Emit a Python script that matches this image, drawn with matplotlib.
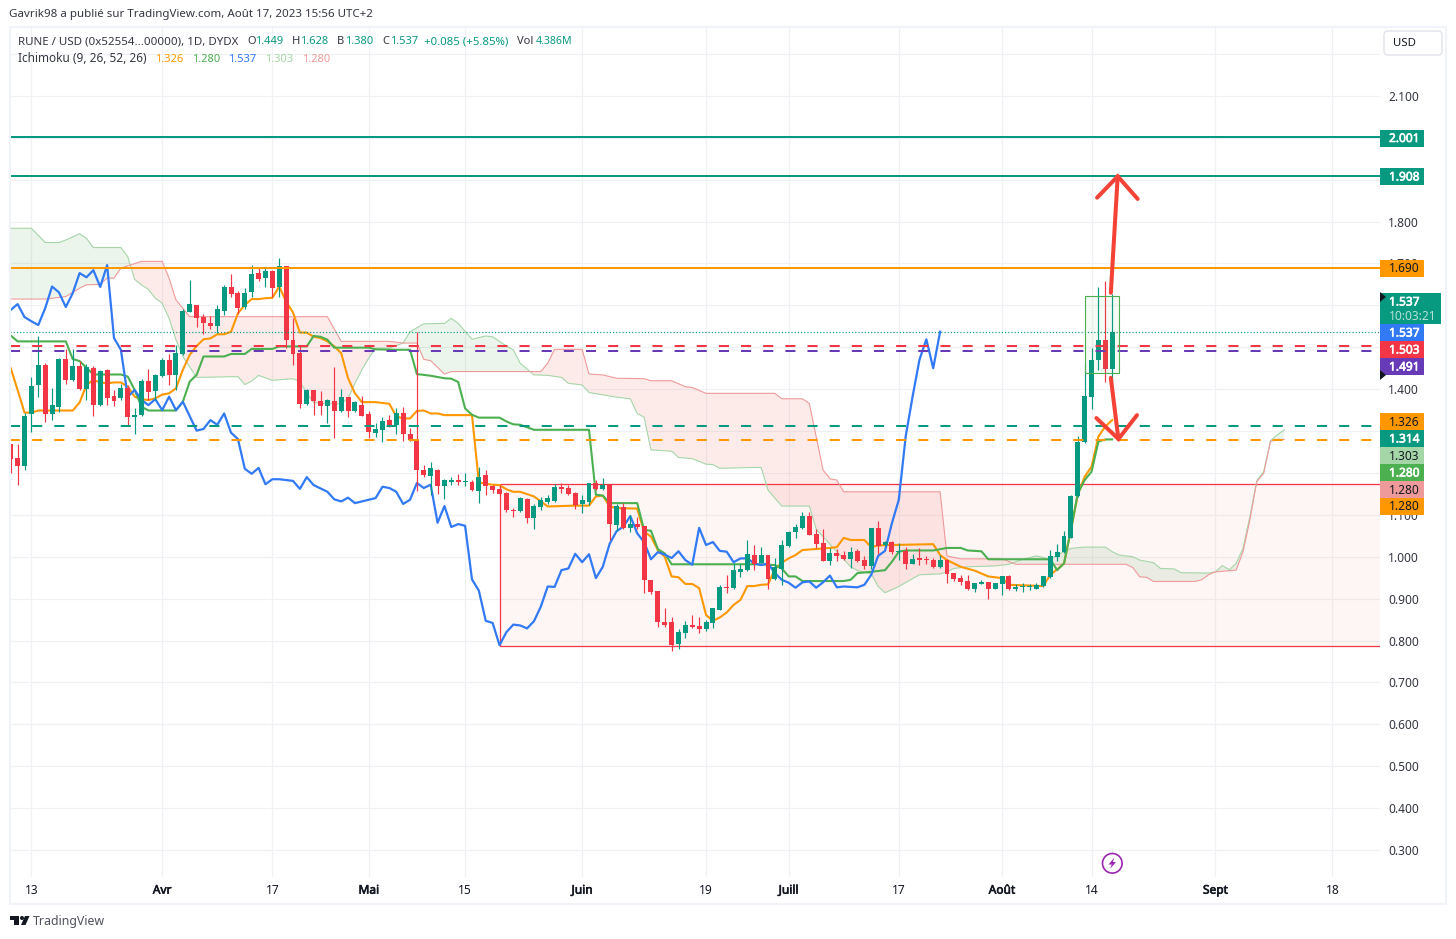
import matplotlib
matplotlib.use('Agg')
import matplotlib.pyplot as plt
import matplotlib.patheffects as pe
import numpy as np
from matplotlib.patches import Rectangle, Polygon, Circle, FancyBboxPatch
from matplotlib.transforms import Affine2D

plt.rcParams['font.family'] = ['Noto Sans', 'DejaVu Sans']

# daily candles, day 0 = 13 March 2023
candle_days = list(range(-3, 158))
opens = [1.269,1.236,1.217,1.341,1.41,1.458,1.341,1.358,1.472,1.422,1.455,1.401,1.451,1.362,1.446,1.384,1.379,1.403,1.334,1.338,1.42,1.396,1.432,1.47,1.434,1.484,1.584,1.601,1.572,1.558,1.551,1.587,1.644,1.63,1.596,1.632,1.677,1.666,1.682,1.644,1.694,1.518,1.486,1.365,1.398,1.372,1.36,1.372,1.348,1.381,1.348,1.362,1.341,1.296,1.303,1.327,1.315,1.342,1.293,1.281,1.207,1.193,1.207,1.169,1.179,1.183,1.179,1.179,1.157,1.195,1.169,1.162,1.152,1.112,1.109,1.138,1.093,1.119,1.131,1.133,1.167,1.164,1.152,1.126,1.131,1.176,1.162,1.171,1.076,1.119,1.069,1.078,1.074,0.945,0.918,0.844,0.844,0.792,0.818,0.837,0.835,0.828,0.842,0.873,0.928,0.925,0.964,0.968,1.004,0.985,1.004,0.947,0.971,1.026,1.059,1.069,1.097,1.054,1.033,0.99,1.009,1.004,0.995,1.014,0.992,0.978,1.069,1.028,1.035,1.011,1.014,0.983,0.997,0.995,0.992,0.976,0.992,0.961,0.949,0.942,0.923,0.935,0.94,0.923,0.935,0.954,0.923,0.927,0.927,0.923,0.93,0.952,0.999,1.011,1.045,1.144,1.274,1.382,1.47,1.518,1.449]
highs = [1.269,1.269,1.344,1.428,1.527,1.462,1.402,1.475,1.495,1.495,1.467,1.46,1.455,1.446,1.448,1.398,1.412,1.41,1.355,1.424,1.448,1.436,1.475,1.484,1.506,1.592,1.661,1.601,1.58,1.575,1.601,1.649,1.675,1.634,1.642,1.697,1.692,1.692,1.685,1.713,1.694,1.57,1.503,1.401,1.398,1.396,1.377,1.453,1.401,1.381,1.372,1.384,1.348,1.319,1.334,1.338,1.355,1.357,1.307,1.537,1.219,1.226,1.21,1.186,1.19,1.198,1.2,1.183,1.214,1.207,1.171,1.171,1.155,1.116,1.143,1.14,1.126,1.143,1.148,1.174,1.176,1.171,1.155,1.148,1.176,1.183,1.188,1.174,1.126,1.128,1.1,1.095,1.074,0.945,0.918,0.878,0.856,0.828,0.847,0.861,0.856,0.849,0.878,0.933,0.957,0.985,0.983,1.04,1.028,1.023,1.004,0.997,1.04,1.062,1.078,1.107,1.107,1.066,1.066,1.021,1.019,1.014,1.023,1.019,1.002,1.069,1.085,1.038,1.038,1.033,1.023,1.007,1.021,1.002,0.997,1.004,0.995,0.961,0.957,0.957,0.937,0.945,0.94,0.937,0.954,0.957,0.935,0.937,0.935,0.937,0.954,1.016,1.031,1.062,1.148,1.288,1.46,1.498,1.645,1.658,1.628]
lows = [1.199,1.171,1.207,1.298,1.382,1.322,1.327,1.346,1.412,1.42,1.398,1.374,1.336,1.36,1.362,1.36,1.374,1.315,1.293,1.336,1.374,1.374,1.429,1.41,1.398,1.482,1.584,1.549,1.532,1.544,1.534,1.577,1.62,1.58,1.592,1.62,1.658,1.644,1.62,1.62,1.498,1.458,1.355,1.362,1.338,1.338,1.319,1.284,1.346,1.334,1.346,1.336,1.284,1.286,1.274,1.31,1.293,1.277,1.277,1.157,1.19,1.148,1.15,1.138,1.171,1.171,1.169,1.157,1.128,1.148,1.152,1.148,1.107,1.095,1.107,1.081,1.066,1.112,1.126,1.131,1.152,1.148,1.114,1.105,1.124,1.159,1.159,1.04,1.062,1.066,1.059,1.066,0.914,0.911,0.832,0.832,0.775,0.78,0.806,0.83,0.818,0.823,0.83,0.872,0.914,0.923,0.952,0.966,0.968,0.985,0.923,0.945,0.933,1.023,1.045,1.066,1.052,1.021,0.99,0.98,0.99,0.992,0.973,0.988,0.971,0.971,1.007,1.026,1.007,0.992,0.971,0.983,0.98,0.983,0.973,0.973,0.937,0.942,0.933,0.921,0.916,0.935,0.899,0.923,0.909,0.921,0.918,0.916,0.921,0.923,0.928,0.949,0.99,1.009,1.045,1.142,1.271,1.352,1.446,1.416,1.38]
closes = [1.234,1.217,1.336,1.408,1.458,1.341,1.362,1.472,1.422,1.455,1.401,1.453,1.362,1.444,1.379,1.372,1.403,1.334,1.338,1.42,1.393,1.434,1.47,1.434,1.486,1.587,1.603,1.57,1.558,1.551,1.592,1.644,1.627,1.594,1.63,1.675,1.663,1.682,1.642,1.694,1.518,1.484,1.365,1.398,1.372,1.36,1.374,1.348,1.381,1.348,1.37,1.336,1.298,1.305,1.324,1.312,1.343,1.293,1.279,1.207,1.195,1.212,1.169,1.183,1.183,1.179,1.181,1.159,1.19,1.169,1.159,1.15,1.112,1.109,1.14,1.093,1.121,1.136,1.14,1.167,1.162,1.15,1.124,1.136,1.176,1.162,1.171,1.078,1.121,1.069,1.078,1.071,0.945,0.916,0.844,0.837,0.789,0.82,0.837,0.832,0.828,0.844,0.878,0.928,0.925,0.968,0.971,1.007,0.983,1.004,0.947,0.976,1.028,1.059,1.071,1.097,1.052,1.031,0.99,1.009,1.002,0.995,1.011,0.99,0.978,1.069,1.026,1.035,1.011,1.011,0.983,0.995,0.992,0.992,0.976,0.992,0.959,0.947,0.94,0.923,0.937,0.94,0.923,0.937,0.954,0.923,0.928,0.929,0.929,0.933,0.954,1.002,1.011,1.05,1.145,1.274,1.384,1.47,1.518,1.448,1.537]

# ichimoku lines
chikou_days = list(range(-3, 23)) + list(range(24, 37)) + [38,39,40,41,43,44,45,46,47] + list(range(50, 119)) + list(range(120, 133))
chikou = [1.589,1.603,1.572,1.562,1.553,1.593,1.645,1.631,1.596,1.629,1.677,1.667,1.684,1.644,1.696,1.522,1.494,1.382,1.398,1.374,1.362,1.376,1.35,1.382,1.35,1.37,1.301,1.305,1.326,1.315,1.342,1.296,1.281,1.21,1.198,1.212,1.173,1.185,1.185,1.181,1.162,1.19,1.171,1.155,1.137,1.132,1.141,1.128,1.14,1.167,1.164,1.155,1.126,1.136,1.176,1.164,1.172,1.081,1.121,1.071,1.078,1.074,0.946,0.919,0.847,0.842,0.789,0.82,0.838,0.836,0.829,0.846,0.881,0.929,0.928,0.968,0.972,1.007,0.987,1.006,0.949,0.976,1.031,1.061,1.072,1.097,1.056,1.035,0.994,1.011,1.005,0.997,1.013,0.992,0.981,1.069,1.028,1.035,1.014,1.012,0.987,0.996,0.996,0.984,0.98,0.984,0.961,0.945,0.938,0.926,0.939,0.941,0.926,0.939,0.955,0.927,0.929,0.927,0.933,0.957,1.002,1.014,1.08,1.136,1.287,1.382,1.47,1.519,1.45,1.537]
tenkan_days = list(range(-3, 49)) + [50,52,53,54,55,56,57,58,59,60,64,65,66,67,68,69,70,71,73,74,75,79,81,82,83,84,85] + list(range(88, 113)) + [116,117,118,119,121,122,123,125,131,132,133,135,137,139,141,142] + list(range(147, 158))
tenkan = [1.45,1.398,1.344,1.344,1.349,1.349,1.349,1.349,1.349,1.349,1.368,1.41,1.422,1.416,1.414,1.416,1.416,1.406,1.382,1.376,1.374,1.378,1.387,1.39,1.402,1.446,1.482,1.503,1.519,1.521,1.531,1.531,1.537,1.581,1.601,1.615,1.615,1.617,1.618,1.645,1.609,1.583,1.535,1.535,1.525,1.522,1.514,1.502,1.486,1.426,1.39,1.369,1.369,1.365,1.335,1.33,1.33,1.348,1.349,1.342,1.342,1.338,1.338,1.178,1.174,1.172,1.171,1.161,1.155,1.155,1.144,1.132,1.12,1.122,1.122,1.144,1.146,1.12,1.116,1.115,1.06,1.048,1.016,1.0,0.953,0.951,0.935,0.935,0.925,0.861,0.847,0.855,0.867,0.885,0.897,0.93,0.93,0.933,0.934,0.97,0.986,0.996,1.004,1.016,1.021,1.023,1.045,1.04,1.04,1.023,1.027,1.028,1.03,1.004,0.992,0.976,0.967,0.953,0.949,0.933,0.93,0.957,0.97,0.984,1.064,1.148,1.191,1.215,1.287,1.311,1.326]
kijun_days = [-3,-2,5,6,7,8,9,13,14,15,16,17,21,22,23,24,25,28,29,31,32,35,36,40,41,42,43,44,49,50,53,54,55,56,58,60,61,62,63,64,65,68,69,70,71,73,81,82,83,84,88,89,90,91,92,93,105,106,108,109,110,111,112,118,119,120,122,124,125,126,127,131,133,135,136,138,139,148,149,150,151,152,153,154,155,156,157]
kijun = [1.528,1.514,1.514,1.472,1.467,1.451,1.435,1.435,1.43,1.398,1.358,1.349,1.349,1.37,1.418,1.434,1.478,1.478,1.484,1.484,1.496,1.496,1.502,1.502,1.527,1.525,1.518,1.499,1.499,1.495,1.494,1.494,1.494,1.436,1.432,1.426,1.425,1.417,1.354,1.339,1.332,1.332,1.323,1.316,1.315,1.303,1.303,1.148,1.146,1.128,1.128,1.064,1.062,1.018,1.008,0.982,0.982,0.982,0.98,0.972,0.953,0.953,0.942,0.942,0.945,0.961,0.964,0.968,0.988,1.012,1.015,1.015,1.021,1.021,1.015,1.013,0.994,0.994,0.968,0.984,1.064,1.151,1.183,1.203,1.275,1.28,1.28]
senkou_a_days = [-3,0,2,4,5,7,8,9,13,14,15,16,17,18,19,20,21,22,24,30,31,32,33,35,38,39,40,41,43,45,46,47,48,49,50,52,54,55,57,60,61,62,64,66,67,69,70,71,73,75,77,78,80,81,85,87,88,89,90,93,94,96,98,99,100,105,106,107,109,113,114,115,119,120,122,123,124,126,129,132,133,134,136,140,142,144,146,148,149,150,151,153,156,157,158,160,161,163,164,166,167,171,172,173,174,175,176,177,178,179,180,181,182]
senkou_a = [1.784,1.784,1.75,1.75,1.756,1.771,1.76,1.738,1.738,1.716,1.662,1.649,1.638,1.617,1.605,1.569,1.518,1.478,1.428,1.43,1.411,1.419,1.433,1.421,1.425,1.418,1.39,1.368,1.365,1.365,1.378,1.414,1.446,1.474,1.498,1.498,1.51,1.537,1.556,1.557,1.569,1.557,1.519,1.527,1.525,1.503,1.494,1.462,1.434,1.433,1.428,1.414,1.41,1.392,1.381,1.377,1.342,1.333,1.255,1.252,1.237,1.234,1.221,1.22,1.211,1.213,1.213,1.159,1.121,1.121,1.066,1.048,0.976,0.967,0.959,0.929,0.914,0.929,0.957,0.959,0.964,0.972,0.976,0.978,0.982,0.994,1.002,0.994,1.004,1.012,1.02,1.023,1.023,1.012,1.004,1.0,0.992,0.986,0.972,0.971,0.962,0.961,0.964,0.979,0.969,0.984,1.02,1.096,1.181,1.203,1.277,1.291,1.303]
senkou_b_days = [-3,2,5,7,8,10,11,12,13,16,19,20,21,23,43,45,52,54,56,57,58,60,61,74,75,76,80,81,83,85,89,90,93,95,96,98,105,108,109,112,113,115,116,117,118,132,133,135,141,143,149,159,160,161,162,163,169,170,171,172,175,176,177,178,179,180,181,182]
senkou_b = [1.615,1.615,1.621,1.641,1.649,1.65,1.665,1.665,1.689,1.705,1.705,1.665,1.613,1.573,1.573,1.514,1.514,1.51,1.51,1.471,1.468,1.436,1.442,1.442,1.462,1.495,1.495,1.436,1.434,1.426,1.425,1.42,1.42,1.406,1.404,1.39,1.39,1.39,1.377,1.377,1.366,1.207,1.186,1.183,1.155,1.155,1.002,0.995,0.995,0.982,0.982,0.982,0.974,0.952,0.951,0.941,0.941,0.945,0.957,0.964,0.968,1.012,1.088,1.179,1.199,1.275,1.28,1.28]

# levels and drawings
solid_levels = [2.001, 1.908, 1.690]
solid_colors = ['#089981', '#089981', '#FF9800']
dashed_levels = [1.503, 1.491, 1.312, 1.279]
dashed_colors = ['#F23645', '#673AB7', '#089981', '#FF9800']
last_price = 1.537
range_box = (68, 0.786, 1.173)
green_box = (153, 158, 1.438, 1.622)
arrow_up = ([156.8, 157.8], [1.630, 1.908])
head_up = ([154.8, 157.8, 160.7], [1.857, 1.908, 1.854])
arrow_down = ([156.8, 157.9], [1.427, 1.281])
head_down = ([154.7, 157.9, 160.6], [1.331, 1.281, 1.338])

tick_days = [0, 19, 35, 49, 63, 80, 98, 110, 126, 141, 154, 172, 189]
tick_names = ['13', 'Avr', '17', 'Mai', '15', 'Juin', '19', 'Juill', '17', 'Août', '14', 'Sept', '18']
months = ['Avr', 'Mai', 'Juin', 'Juill', 'Août', 'Sept']
price_ticks = [round(0.3 + 0.1 * i, 1) for i in range(20)]
covered_ticks = [2.2, 2.0, 1.9, 1.6, 1.5, 1.3, 1.2]  # sit behind the price tags

# (text, centre y in px, background, text colour)
tags = [('2.001', 138, '#089981', 'white'), ('1.908', 176.5, '#089981', 'white'),
        ('1.690', 268, '#FF9800', '#131722'), ('1.537', 332.5, '#3179F5', 'white'),
        ('1.503', 349.5, '#F23645', 'white'), ('1.491', 366.5, '#673AB7', 'white'),
        ('1.326', 421.5, '#FF9800', '#131722'), ('1.314', 438.5, '#089981', 'white'),
        ('1.303', 455.5, '#A5D6A7', '#131722'), ('1.280', 472.5, '#4CAF50', 'white'),
        ('1.280', 489.5, '#EF9A9A', '#131722'), ('1.280', 506.5, '#FF9800', '#131722')]

UP = '#089981'
DOWN = '#F23645'
GRID = '#F0F1F5'
W, H = 1456, 939


def heavy(col, w=0.45):
    # Noto Sans here has no bold cut, thicken with a thin stroke
    return [pe.withStroke(linewidth=w, foreground=col)]


fig = plt.figure(figsize=(W / 100, H / 100), dpi=100, facecolor='white')
ax = fig.add_axes([10 / W, 1 - 877 / H, 1370 / W, 849 / H])
px = Affine2D().scale(1, -1).translate(0, H)  # reference pixels to display
ax.set_xlim(-3.108, 195.9)
ax.set_ylim(0.2356, 2.262)
for s in ax.spines.values():
    s.set_visible(False)
ax.grid(True, color=GRID, lw=0.9, zorder=0)
ax.set_axisbelow(True)
ax.yaxis.tick_right()
ax.set_yticks(price_ticks)
ax.set_yticklabels(['' if p in covered_ticks else '%.3f' % p for p in price_ticks], fontsize=8.6, color='#333742')
ax.tick_params(axis='y', length=0, pad=6)
ax.set_xticks(tick_days)
ax.set_xticklabels(tick_names, fontsize=8.6, color='#131722')
ax.tick_params(axis='x', length=0, pad=4.8)
for lab in ax.get_xticklabels():
    if lab.get_text() in months:
        lab.set_path_effects(heavy('#131722'))

# price range box behind everything
ax.add_patch(Rectangle((range_box[0], range_box[1]), 200, range_box[2] - range_box[1],
                       fc=(0.96, 0.3, 0.25, 0.05), ec=DOWN, lw=0.9, zorder=1))

# cloud
grid_days = sorted(set(senkou_a_days) | set(senkou_b_days))
a_fill = np.interp(grid_days, senkou_a_days, senkou_a)
b_fill = np.interp(grid_days, senkou_b_days, senkou_b)
ax.fill_between(grid_days, a_fill, b_fill, where=a_fill >= b_fill, interpolate=True,
                color='#43A047', alpha=0.1, lw=0, zorder=2)
ax.fill_between(grid_days, a_fill, b_fill, where=a_fill <= b_fill, interpolate=True,
                color='#F44336', alpha=0.1, lw=0, zorder=2)
ax.plot(senkou_a_days, senkou_a, color='#A5D6A7', lw=0.8, zorder=3)
ax.plot(senkou_b_days, senkou_b, color='#EF9A9A', lw=0.8, zorder=3)

ax.plot(tenkan_days, tenkan, color='#FF9800', lw=1.5, zorder=4, solid_joinstyle='round')
ax.plot(kijun_days, kijun, color='#4CAF50', lw=1.5, zorder=4, solid_joinstyle='round')
ax.plot(chikou_days, chikou, color='#3179F5', lw=1.6, zorder=4, solid_joinstyle='round')

# candles
colors = [UP if c >= o else DOWN for o, c in zip(opens, closes)]
ax.vlines(candle_days, lows, highs, colors=colors, lw=0.85, zorder=5)
bottoms = [min(o, c) for o, c in zip(opens, closes)]
heights = [max(abs(c - o), 0.0024) for o, c in zip(opens, closes)]
ax.bar(candle_days, heights, bottom=bottoms, width=0.72, color=colors, lw=0, zorder=6)

# levels
for lvl, col in zip(solid_levels, solid_colors):
    ax.axhline(lvl, color=col, lw=1.45, zorder=7)
for lvl, col in zip(dashed_levels, dashed_colors):
    ax.axhline(lvl, color=col, lw=1.45, ls=(0, (5, 6)), zorder=7)
ax.axhline(last_price, color=UP, lw=0.85, ls=(0, (1, 1.7)), zorder=7)

ax.add_patch(Rectangle((green_box[0], green_box[2]), green_box[1] - green_box[0],
                       green_box[3] - green_box[2], fc=(0.298, 0.686, 0.314, 0.06),
                       ec='#4CAF50', lw=0.8, zorder=7))
for xs, ys in (arrow_up, head_up, arrow_down, head_down):
    ax.plot(xs, ys, color='#F44336', lw=2.9, solid_capstyle='round', solid_joinstyle='miter', zorder=8)

# outer frame
fig.add_artist(Rectangle((10, 27), 1435.5, 876.5, transform=px, fc='none', ec='#F0F3FA', lw=1.5))

# price tags
for txt, y, bg, fg in tags:
    fig.add_artist(Rectangle((1380, y - 8.5), 44, 17, transform=px, fc=bg, ec='none'))
    t = fig.text(1389, y + 0.5, txt, transform=px, color=fg, fontsize=8.6, va='center', ha='left')
    if fg == 'white':
        t.set_path_effects(heavy('white'))
fig.add_artist(Rectangle((1380, 293), 61, 31, transform=px, fc=UP, ec='none'))
t = fig.text(1389, 302, '1.537', transform=px, color='white', fontsize=8.6, va='center')
t.set_path_effects(heavy('white'))
fig.text(1389, 316, '10:03:21', transform=px, color='#B5E2D8', fontsize=8.6, va='center')
for y0 in (292, 370):
    fig.add_artist(Polygon([(1380, y0), (1386, y0 + 5), (1380, y0 + 10)], transform=px, fc='#131722', ec='none'))

# USD button
fig.add_artist(FancyBboxPatch((1386, 33), 54, 20, boxstyle='round,pad=2,rounding_size=4', transform=px,
                              fc='white', ec='#E0E3EB', lw=1))
fig.text(1393, 43, 'USD', transform=px, fontsize=8.2, color='#131722', va='center')

# header
fig.text(9, 15, 'Gavrik98 a publié sur TradingView.com, Août 17, 2023 15:56 UTC+2', transform=px,
         fontsize=8.3, color='#333742', va='center')
legend1 = [(18, 'RUNE / USD (0x52554...00000), 1D, DYDX', '#333742', 8.3), (247, 'O', '#333742', 8), (255, '1.449', UP, 8),
           (292, 'H', '#333742', 8), (300, '1.628', UP, 8), (337, 'B', '#333742', 8), (345, '1.380', UP, 8),
           (382, 'C', '#333742', 8), (390, '1.537', UP, 8), (424, '+0.085 (+5.85%)', UP, 8.2), (517, 'Vol', '#333742', 8), (536, '4.386M', UP, 7.6)]
for x, s, col, size in legend1:
    fig.text(x, 42, s, transform=px, fontsize=size, color=col, va='center')
legend2 = [(18, 'Ichimoku (9, 26, 52, 26)', '#333742', 8.5), (155, '1.326', '#FF9800', 8), (192, '1.280', '#4CAF50', 8),
           (228, '1.537', '#3179F5', 8), (265, '1.303', '#A5D6A7', 8), (302, '1.280', '#EF9A9A', 8)]
for x, s, col, size in legend2:
    fig.text(x, 59, s, transform=px, fontsize=size, color=col, va='center')

# lightning badge
fig.add_artist(Circle((1112.3, 863.3), 9.8, transform=px, fc='white', ec='#9C27B0', lw=1.2))
fig.add_artist(Polygon([(1114.5, 857.5), (1108.5, 864.5), (1111.8, 864.5), (1110, 869), (1116, 862), (1112.8, 862)],
                       transform=px, fc='#9C27B0', ec='none'))

# logo
fig.add_artist(Polygon([(10, 916), (19, 916), (19, 925), (14, 925), (14, 920), (10, 920)], transform=px, fc='#131722', ec='none'))
fig.add_artist(Circle((22, 918), 2, transform=px, fc='#131722', ec='none'))
fig.add_artist(Polygon([(25, 916), (29.5, 916), (25.5, 925), (21, 925)], transform=px, fc='#131722', ec='none'))
fig.text(33, 921, 'TradingView', transform=px, fontsize=8.9, color='#50535E', va='center')

fig.savefig('out.png', dpi=100)
